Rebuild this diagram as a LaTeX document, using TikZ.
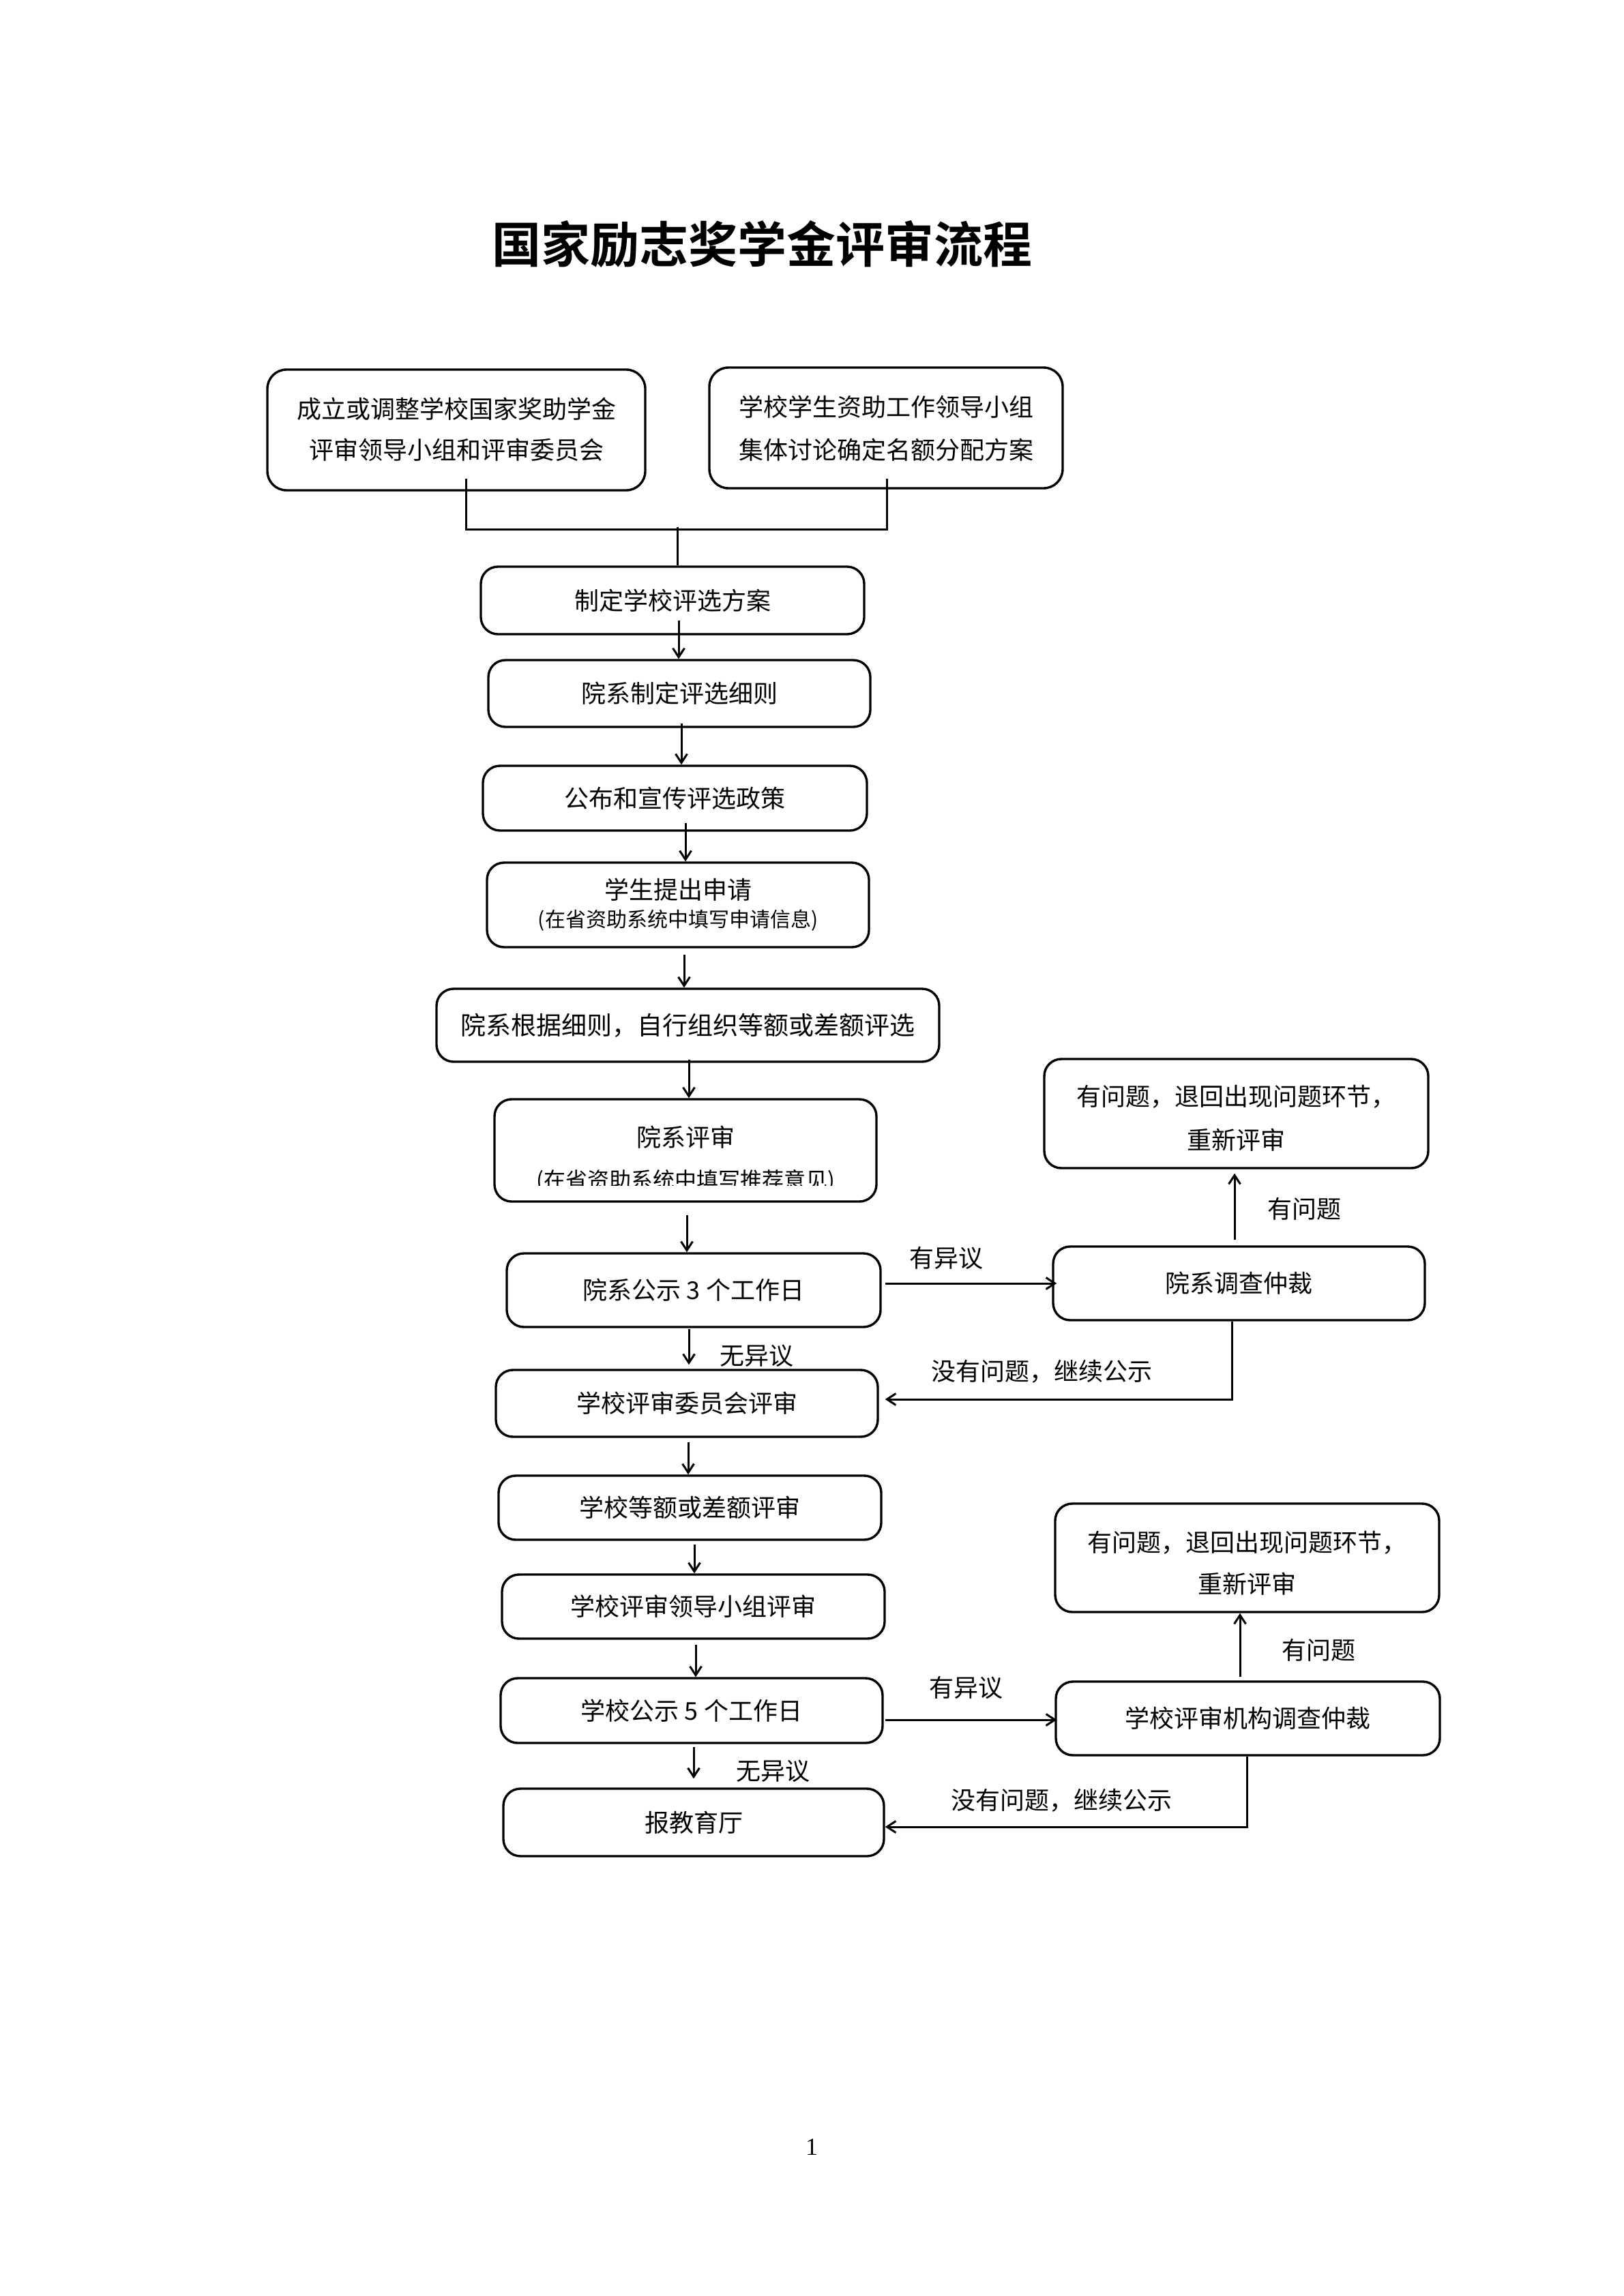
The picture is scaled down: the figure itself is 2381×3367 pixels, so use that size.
\documentclass[tikz,border=0pt]{standalone}
\usepackage{fontspec}
\setmainfont{Liberation Serif}
\newfontfamily\cjk{Noto Sans CJK SC}
\newfontfamily\cjktitle{Noto Sans CJK SC Bold}
\usetikzlibrary{arrows.meta,calc}
\begin{document}
\begin{tikzpicture}[x=1pt,y=-1pt,
  box/.style={draw, line width=3.4pt, rounded corners=25pt, inner sep=0pt, font=\cjk\fontsize{36pt}{44pt}\selectfont},
  txt/.style={inner sep=0pt, font=\cjk\fontsize{36pt}{44pt}\selectfont},
  smalltxt/.style={inner sep=0pt, font=\cjk\fontsize{30pt}{36pt}\selectfont},
  smalltxtb/.style={inner sep=0pt, font=\cjk\fontsize{32pt}{38pt}\selectfont},
  conn/.style={line width=3pt},
  arr/.style={conn, -{Straight Barb[length=13pt,width=17pt,line width=3pt]}}]
\fill[white] (0,0) rectangle (2381,3367);
\useasboundingbox (0,0) rectangle (2381,3367);

% title
\node[inner sep=0pt, font=\cjktitle\fontsize{72pt}{80pt}\selectfont] (title) at (1117,358) {国家励志奖学金评审流程};

% top boxes
\node[box, rounded corners=28pt, minimum width=554pt, minimum height=177pt] (A) at (669,630.5) {};
\node[txt] (A1) at (669,600) {成立或调整学校国家奖助学金};
\node[txt] (A2) at (669,660) {评审领导小组和评审委员会};
\node[box, rounded corners=28pt, minimum width=518pt, minimum height=177pt] (B) at (1299,627.5) {};
\node[txt] (B1) at (1299,597) {学校学生资助工作领导小组};
\node[txt] (B2) at (1299,660) {集体讨论确定名额分配方案};

% main column
\node[box, minimum width=562pt, minimum height=99pt] (C) at (986,880.5) {制定学校评选方案};
\node[box, minimum width=560pt, minimum height=98pt] (D) at (996,1017) {院系制定评选细则};
\node[box, minimum width=563pt, minimum height=95pt] (E) at (989.5,1170.5) {公布和宣传评选政策};
\node[box, minimum width=560pt, minimum height=124pt] (F) at (994,1327) {};
\node[txt] (F1) at (994,1305) {学生提出申请};
\node[smalltxt] (F2) at (994,1350) {(在省资助系统中填写申请信息)};
\node[box, minimum width=737pt, minimum height=107pt, font=\cjk\fontsize{37pt}{44pt}\selectfont] (G) at (1008.5,1503.5) {院系根据细则，自行组织等额或差额评选};
\node[box, minimum width=560pt, minimum height=150pt] (H) at (1005,1687) {};
\node[txt] (H1) at (1005,1668) {院系评审};
\begin{scope}
  \clip ($(H.north west)+(10,0)$) rectangle ($(H.east)+(-10,51)$);
  \node[smalltxtb, anchor=base] (H2) at (1005,1742) {(在省资助系统中填写推荐意见)};
\end{scope}
\node[box, minimum width=548pt, minimum height=108pt] (I) at (1017,1892) {院系公示 3 个工作日};
\node[box, minimum width=560pt, minimum height=98pt] (L) at (1007,2058) {学校评审委员会评审};
\node[box, minimum width=561pt, minimum height=94pt] (M) at (1011.5,2211) {学校等额或差额评审};
\node[box, minimum width=561pt, minimum height=94pt] (N) at (1016.5,2356) {学校评审领导小组评审};
\node[box, minimum width=560pt, minimum height=95pt] (O) at (1014,2508.5) {学校公示 5 个工作日};
\node[box, minimum width=558pt, minimum height=99pt] (R) at (1017,2672.5) {报教育厅};

% right column
\node[box, minimum width=545pt, minimum height=108pt] (J) at (1816.5,1882) {院系调查仲裁};
\node[box, minimum width=563pt, minimum height=160pt] (K) at (1812.5,1633) {};
\node[txt] (K1) at (1812.5,1608) {有问题，退回出现问题环节，};
\node[txt] (K2) at (1812.5,1672) {重新评审};
\node[box, minimum width=563pt, minimum height=108pt] (P) at (1829.5,2520) {学校评审机构调查仲裁};
\node[box, minimum width=563pt, minimum height=159pt] (Q) at (1828.5,2284.5) {};
\node[txt] (Q1) at (1828.5,2262) {有问题，退回出现问题环节，};
\node[txt] (Q2) at (1828.5,2323) {重新评审};

% connectors
\draw[conn] ($(A.south)+(14,-19)$) |- ($(B.south)+(1,59)$) -- ($(B.south)+(1,-16)$);
\draw[conn] ($(C.north)+(7,-56)$) -- ($(C.north)+(7,0)$);
\draw[arr] ($(C.south)+(9,-22)$) -- ($(D.north)+(-1,0)$);
\draw[arr] ($(D.south)+(3,-7)$) -- ($(E.north)+(9.5,0)$);
\draw[arr] ($(E.south)+(15.5,-13)$) -- ($(F.north)+(11,0)$);
\draw[arr] ($(F.south)+(9,9)$) -- ($(G.north)+(-5.5,0)$);
\draw[arr] ($(G.south)+(1.5,-5)$) -- ($(H.north)+(5,0)$);
\draw[arr] ($(H.south)+(2,18)$) -- ($(I.north)+(-10,0)$);
\draw[arr] ($(I.south)+(-7,1)$) -- ($(L.north)+(3,-6)$);
\draw[arr] ($(L.south)+(2,6)$) -- ($(M.north)+(-2.5,0)$);
\draw[arr] ($(M.south)+(6.5,5)$) -- ($(N.north)+(1.5,0)$);
\draw[arr] ($(N.south)+(3.5,7)$) -- ($(O.north)+(6,0)$);
\draw[arr] ($(O.south)+(3,4)$) -- ($(R.north)+(0,-13)$);
\draw[arr] ($(I.east)+(5,-10)$) -- ($(J.west)+(7,0)$);
\draw[arr] ($(J.north)+(-6.5,-8)$) -- ($(K.south)+(-2.5,6)$);
\draw[arr] ($(J.south)+(-10.5,0)$) |- ($(L.east)+(9,-6)$);
\draw[arr] ($(O.east)+(2,13.5)$) -- ($(P.west)+(3,2)$);
\draw[arr] ($(P.north)+(-11.5,-5)$) -- ($(Q.south)+(-10.5,0)$);
\draw[arr] ($(P.south)+(-1.5,0)$) |- ($(R.east)+(0,6.5)$);

% labels
\node[txt] (l1) at (1387,1845) {有异议};
\node[txt] (l2) at (1912,1773) {有问题};
\node[txt] (l3) at (1109,1988) {无异议};
\node[txt] (l4) at (1527,2011) {没有问题，继续公示};
\node[txt] (l5) at (1416,2475) {有异议};
\node[txt] (l6) at (1933,2420) {有问题};
\node[txt] (l7) at (1133,2597) {无异议};
\node[txt] (l8) at (1556,2640) {没有问题，继续公示};

% page number
\node[inner sep=0pt, font=\fontsize{36pt}{40pt}\selectfont] (pg) at (1190,3149) {1};
\end{tikzpicture}
\end{document}
